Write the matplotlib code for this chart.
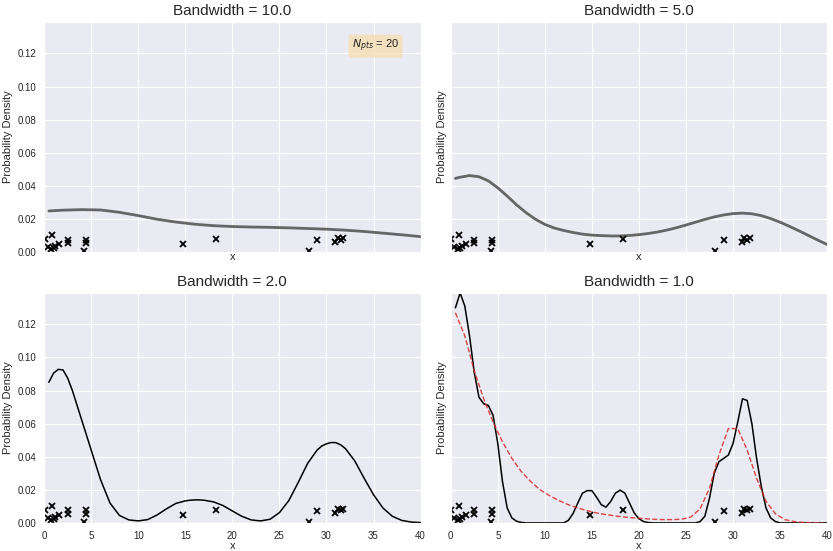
import matplotlib
matplotlib.use("Agg")
import matplotlib.pyplot as plt
import seaborn as sns

# sample points (x) and their plotting jitter (y)
pts_x = [0.05, 0.88, 0.39, 0.74, 1.0, 1.17, 1.6, 2.5, 2.5, 4.43, 4.43, 4.26,
         14.8, 18.26, 28.1, 29.0, 30.9, 31.2, 31.5, 31.8]
pts_y = [0.008, 0.0103, 0.003, 0.002, 0.0022, 0.0034, 0.005, 0.0075, 0.0055,
         0.0075, 0.0055, 0.0005, 0.0048, 0.0079, 0.0005, 0.0073, 0.0059,
         0.0083, 0.0075, 0.0087]

# density estimates
grid_bw10 = [0.5, 2, 4, 6, 8, 10, 12, 14, 16, 18, 20, 22, 24, 26, 28, 30,
             32, 34, 36, 38, 40]
kde_bw10 = [0.0248, 0.0253, 0.0256, 0.0254, 0.0240, 0.0220, 0.0198, 0.0181,
            0.0168, 0.0159, 0.0154, 0.0151, 0.0149, 0.0146, 0.0142, 0.0138,
            0.0132, 0.0124, 0.0114, 0.0104, 0.0093]

grid_bw5 = [0.5] + list(range(1, 41))
kde_bw5 = [0.0445, 0.0452, 0.0462, 0.0455, 0.0430, 0.0388, 0.0338, 0.0285,
           0.0238, 0.0198, 0.0167, 0.0145, 0.0130, 0.0118, 0.0108, 0.0102,
           0.0099, 0.0097, 0.0097, 0.0100, 0.0105, 0.0112, 0.0121, 0.0133,
           0.0147, 0.0163, 0.0180, 0.0197, 0.0212, 0.0224, 0.0232, 0.0235,
           0.0231, 0.0220, 0.0202, 0.0180, 0.0155, 0.0128, 0.0100, 0.0072,
           0.0045]

grid_bw2 = [0.5, 1, 1.5, 2, 2.5, 3, 4, 5, 6, 7, 8, 9, 10, 11, 12, 13, 14, 15,
            15.5, 16, 16.5, 17, 18, 19, 20, 21, 22, 23, 24, 25, 26, 27, 28,
            29, 29.5, 30, 30.5, 31, 31.5, 32, 33, 34, 35, 36, 37, 38, 39, 40]
kde_bw2 = [0.085, 0.0905, 0.0928, 0.0925, 0.0875, 0.080, 0.062, 0.044, 0.026,
           0.012, 0.0045, 0.0018, 0.0012, 0.0020, 0.0048, 0.0085, 0.0118,
           0.0133, 0.0137, 0.0139, 0.0139, 0.0137, 0.0127, 0.0105, 0.0072,
           0.0040, 0.0018, 0.0012, 0.0022, 0.0062, 0.0135, 0.0245, 0.0360,
           0.0440, 0.0465, 0.0478, 0.0486, 0.0485, 0.0472, 0.0450, 0.0375,
           0.0270, 0.0170, 0.0090, 0.0040, 0.0015, 0.0005, 0.0002]

grid_bw1 = [0.5 * i for i in range(1, 81)]
kde_bw1 = [0.130, 0.139, 0.131, 0.113, 0.091, 0.076, 0.072, 0.071, 0.065,
           0.048, 0.025, 0.009, 0.003, 0.001, 0.0003,
           0, 0, 0, 0, 0, 0, 0, 0, 0,
           0.0015, 0.0057, 0.012, 0.018, 0.0195, 0.0195, 0.0155, 0.011,
           0.0095, 0.013, 0.018, 0.0198, 0.018, 0.012, 0.006, 0.0025,
           0.0008, 0.0002,
           0, 0, 0, 0, 0, 0, 0, 0, 0, 0,
           0.0008, 0.004, 0.015, 0.030, 0.037, 0.039, 0.041, 0.048, 0.061,
           0.075, 0.074, 0.060, 0.039, 0.022, 0.009, 0.003, 0.0008,
           0, 0, 0, 0, 0, 0, 0, 0, 0, 0, 0]

grid_true = [i + 0.5 for i in range(40)]
true_pdf = [0.127, 0.113, 0.092, 0.075, 0.061, 0.049, 0.039, 0.031, 0.025,
            0.020, 0.0165, 0.0135, 0.011, 0.009, 0.0074, 0.006, 0.005, 0.0042,
            0.0035, 0.003, 0.0026, 0.0022, 0.002, 0.002, 0.0022, 0.0035,
            0.0085, 0.021, 0.041, 0.057, 0.057, 0.044, 0.027, 0.013, 0.0055,
            0.002, 0.0008, 0.0003, 0.0001, 0.0]

sns.set_style("darkgrid")
plt.rcParams["font.family"] = ["Liberation Sans", "DejaVu Sans"]

fig, axes = plt.subplots(2, 2, figsize=(8.33, 5.51), dpi=100,
                         sharex=True, sharey=True)
fig.subplots_adjust(left=0.053, right=0.993, top=0.96, bottom=0.051,
                    wspace=0.08, hspace=0.178)

panels = [
    (axes[0, 0], "Bandwidth = 10.0", grid_bw10, kde_bw10, "#666666", 2.0),
    (axes[0, 1], "Bandwidth = 5.0", grid_bw5, kde_bw5, "#666666", 2.0),
    (axes[1, 0], "Bandwidth = 2.0", grid_bw2, kde_bw2, "black", 1.1),
    (axes[1, 1], "Bandwidth = 1.0", grid_bw1, kde_bw1, "black", 1.1),
]

for ax, title, gx, gy, col, lw in panels:
    ax.plot(gx, gy, color=col, lw=lw)
    ax.plot(pts_x, pts_y, "x", color="black", ms=5, mew=1.3)
    ax.set_title(title, fontsize=11, pad=5)
    ax.set_xlabel("x", fontsize=8, labelpad=0)
    ax.set_ylabel("Probability Density", fontsize=8, labelpad=3)
    ax.tick_params(labelsize=7, pad=2)
    ax.tick_params(axis="x", labelbottom=ax in axes[1])

axes[1, 1].plot(grid_true, true_pdf, "--", color="#d62728", alpha=0.85, lw=1)

axes[0, 0].text(0.88, 0.895, "$N_{pts}$ = 20", transform=axes[0, 0].transAxes,
                ha="center", va="center", fontsize=8,
                bbox=dict(boxstyle="round", facecolor="wheat", alpha=0.8,
                          edgecolor="none"))

ax = axes[0, 0]
ax.set_xlim(0, 40)
ax.set_ylim(0, 0.139)
ax.set_xticks(range(0, 41, 5))
ax.set_yticks([0, 0.02, 0.04, 0.06, 0.08, 0.10, 0.12])
ax.yaxis.set_major_formatter(plt.FormatStrFormatter("%.2f"))

fig.savefig("out.png", dpi=100)
